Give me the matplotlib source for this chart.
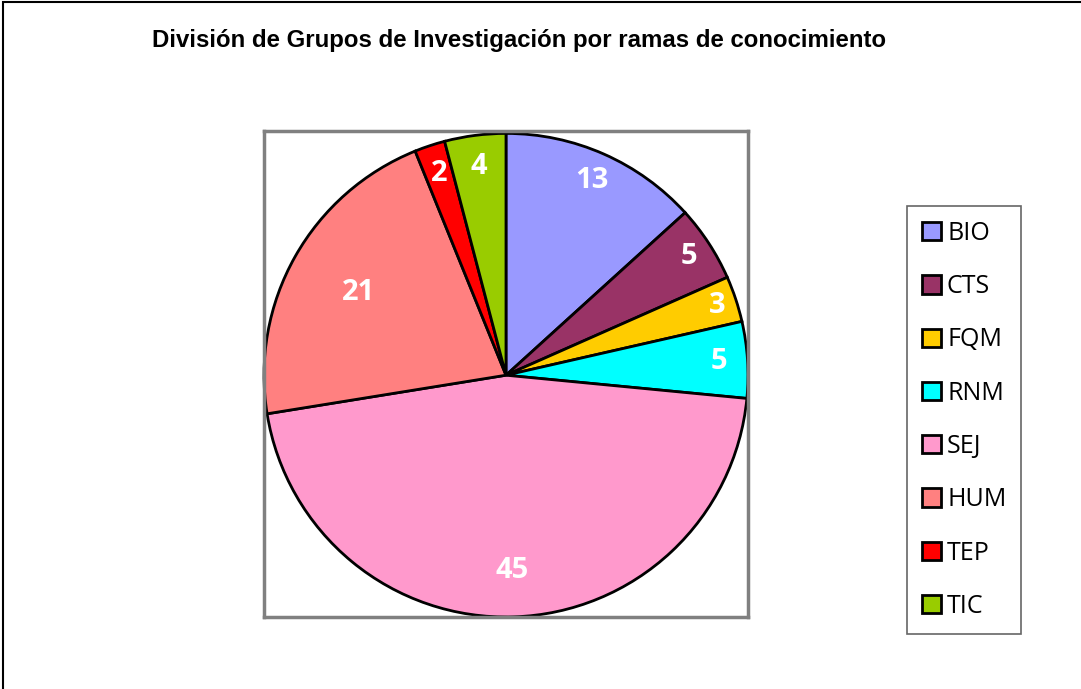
import matplotlib
matplotlib.use("Agg")
import matplotlib.pyplot as plt
from matplotlib.patches import Rectangle, Patch
import numpy as np

# data
categories = ["BIO", "CTS", "FQM", "RNM", "SEJ", "HUM", "TEP", "TIC"]
values = [13, 5, 3, 5, 45, 21, 2, 4]
colors = ["#9999FF", "#993366", "#FFCC00", "#00FFFF", "#FF99CC", "#FF8080", "#FF0000", "#99CC00"]
title = "División de Grupos de Investigación por ramas de conocimiento"

# label radius per wedge (style, Excel-like placement)
label_r = [0.88, 0.9, 0.92, 0.88, 0.81, 0.70, 0.88, 0.87]

fig = plt.figure(figsize=(10.81, 6.89), dpi=100)
W, H = 1081, 689

# outer frame (cut on right / bottom)
fig.patches.append(Rectangle((3 / W, -0.1), 1.2, 1 - 2 / H + 0.1, transform=fig.transFigure,
                             fill=False, edgecolor="black", linewidth=1.5))

ax = fig.add_axes([264 / W, (H - 617) / H, 484 / W, 486 / H])
wedges, _ = ax.pie(values, colors=colors, startangle=90, counterclock=False, radius=1.0,
                   wedgeprops=dict(edgecolor="black", linewidth=2))
ax.set_xlim(-1.0, 1.0)
ax.set_ylim(-1.0, 1.01)
ax.set_aspect("auto")
ax.set_xticks([])
ax.set_yticks([])
ax.set_frame_on(True)
for s in ax.spines.values():
    s.set_edgecolor("#808080")
    s.set_linewidth(2.5)

for w, v, r in zip(wedges, values, label_r):
    ang = np.deg2rad((w.theta1 + w.theta2) / 2)
    ax.text(r * np.cos(ang), r * np.sin(ang), str(v), ha="center", va="center",
            color="white", fontsize=21, fontweight="bold", family="Open Sans")

fig.text(519 / W, 1 - 41 / H, title, ha="center", va="center", fontsize=17.3,
         fontweight="bold", family="Liberation Sans")

handles = [Patch(facecolor=c, edgecolor="black", linewidth=2) for c in colors]
leg = fig.legend(handles, categories, loc="upper left", bbox_to_anchor=(907 / W, 1 - 206 / H),
                 frameon=True, fancybox=False, edgecolor="#404040",
                 prop={"family": "Open Sans", "size": 18}, handlelength=0.75, handleheight=0.75,
                 handletextpad=0.25, labelspacing=1.13, borderpad=0.6, borderaxespad=0)
leg.get_frame().set_linewidth(1.2)

fig.savefig("out.png", dpi=100)
